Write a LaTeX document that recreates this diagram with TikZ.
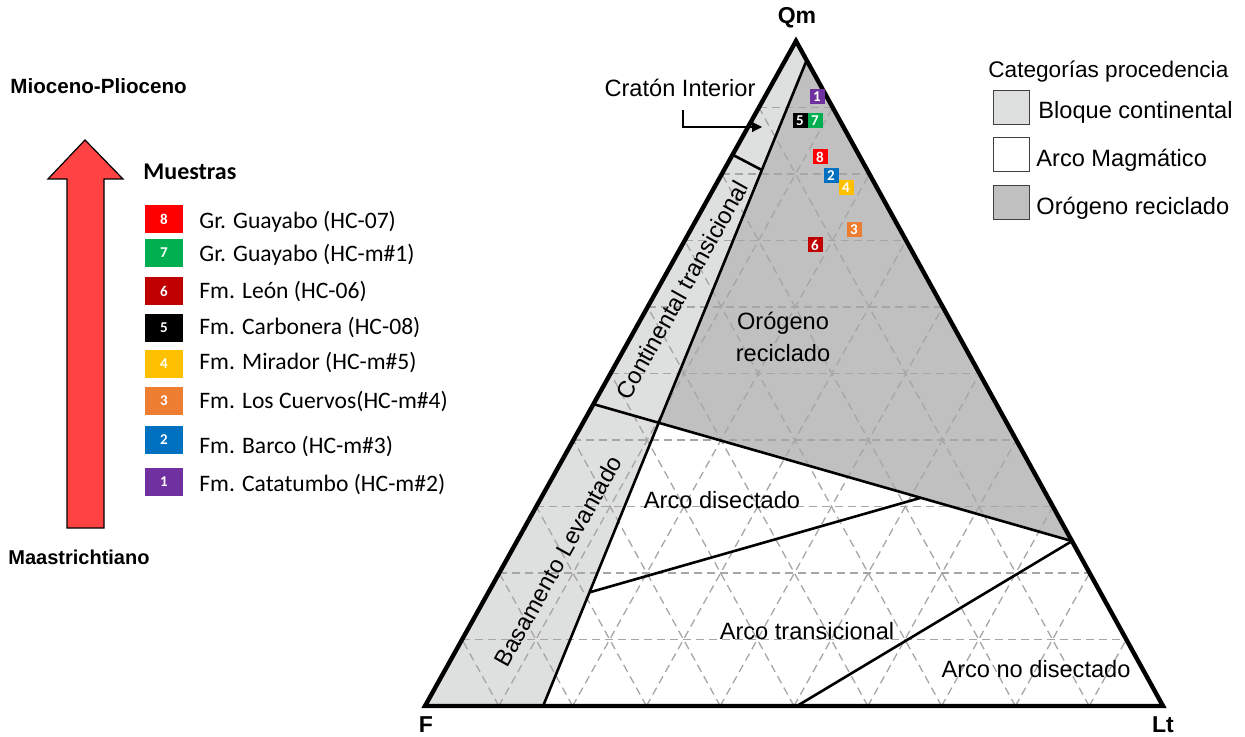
\documentclass[tikz,border=0pt]{standalone}
\usepackage{fontspec}
\setmainfont{Liberation Sans}
\newfontfamily\calibri{Carlito}
\usepackage{xcolor}
\usepackage{tikz}
\usetikzlibrary{calc,arrows.meta}
\definecolor{bloque}{HTML}{DEDFDF}
\definecolor{orogeno}{HTML}{C0C0C0}
\definecolor{gristrazo}{HTML}{A6A6A6}
\definecolor{flecharoja}{HTML}{FF4343}
\definecolor{m8}{HTML}{FF0000}
\definecolor{m7}{HTML}{00B050}
\definecolor{m6}{HTML}{C00000}
\definecolor{m5}{HTML}{000000}
\definecolor{m4}{HTML}{FFC000}
\definecolor{m3}{HTML}{ED7D31}
\definecolor{m2}{HTML}{0070C0}
\definecolor{m1}{HTML}{7030A0}
\tikzset{rejilla/.style={draw=gristrazo,dash pattern=on 4pt off 2.5pt,line width=0.65pt},
    borde/.style={line width=2.2pt,line join=miter},
    limite/.style={line width=1.3pt},
    muestra/.style={fill=#1,text=white,font=\calibri\bfseries\fontsize{7.5}{8}\selectfont,
        inner sep=0pt,minimum size=7.5pt},
    clave/.style={fill=#1,text=white,font=\calibri\bfseries\fontsize{7.5}{8}\selectfont,
        inner sep=0pt,minimum width=19pt,minimum height=14pt},
    nombre/.style={anchor=west,font=\calibri\fontsize{11.8}{13}\selectfont,inner sep=0pt},
    campo/.style={font=\fontsize{11.8}{16}\selectfont,align=center,inner sep=0pt},
    categoria/.style={draw=black!75,line width=0.5pt,minimum width=18pt,minimum height=17pt,inner sep=0pt},
    vertice/.style={font=\bfseries\fontsize{11.5}{13}\selectfont,inner sep=0pt},
    titulo/.style={font=\bfseries\fontsize{10}{12}\selectfont,anchor=west,inner sep=0pt}}

\begin{document}
\begin{tikzpicture}[x=0.5pt,y=-0.5pt]
    \useasboundingbox (0,0) rectangle (1245,737);
    \coordinate (F) at (425,706);
    \coordinate (Lt) at (1163,706);
    \coordinate (Qm) at (796,41);
    \coordinate (B0) at ($(F)!0.16!(Lt)$);
    \coordinate (B1) at ($(Lt)!0.971!(Qm)$);
    \coordinate (C0) at ($(F)!0.829!(Qm)$);
    \coordinate (C1) at ($(B0)!0.83!(B1)$);
    \coordinate (T0) at ($(F)!0.454!(Qm)$);
    \coordinate (R) at ($(Lt)!0.248!(Qm)$);
    \coordinate (T1) at (intersection of T0--R and B0--B1);
    \coordinate (D0) at ($(B0)!0.176!(B1)$);
    \coordinate (D1) at ($(T0)!0.684!(R)$);
    \coordinate (N0) at ($(F)!0.504!(Lt)$);

    \fill[bloque] (F) -- (B0) -- (B1) -- (Qm) -- cycle;
    \fill[orogeno] (T1) -- (B1) -- (R) -- cycle;
    \foreach \i in {1,...,9}{
        \draw[rejilla] ($(F)!\i/10!(Qm)$) -- ($(Lt)!\i/10!(Qm)$);
        \draw[rejilla] ($(F)!\i/10!(Lt)$) -- ($(F)!\i/10!(Qm)$);
        \draw[rejilla] ($(Lt)!\i/10!(F)$) -- ($(Lt)!\i/10!(Qm)$);
    }
    \draw[limite] (B0) -- (B1);
    \draw[limite] (C0) -- (C1);
    \draw[limite] (T0) -- (R);
    \draw[limite] (D0) -- (D1);
    \draw[limite] (R) -- (N0);
    \draw[borde] (F) -- (Lt) -- (Qm) -- cycle;

    \node[vertice] (qm) at (797,18) {Qm};
    \node[vertice] (f) at (426,725) {F};
    \node[vertice] (lt) at (1163,725) {Lt};

    \node[campo,rotate=60.8] (contin) at (682,290) {Continental transicional};
    \node[campo,rotate=60.8] (basam) at (558,561) {Basamento Levantado};
    \node[campo] (orog) at (783,337) {Orógeno\\reciclado};
    \node[campo] (disec) at (722,500) {Arco disectado};
    \node[campo] (trans) at (807,631) {Arco transicional};
    \node[campo] (nodisec) at (1036,669) {Arco no disectado};
    \node[campo] (craton) at (680,88) {Cratón Interior};
    \coordinate (cratonpie) at (683,110);
    \coordinate (cratonpunta) at (762,127);
    \draw[line width=0.6pt,-{Triangle[length=5pt,width=5pt]}] (cratonpie) |- (cratonpunta);

    \foreach \n/\x/\y in {1/817/97,5/800/121,7/815/121,8/820/157,2/831/176,4/846/188,3/854/230,6/815/245}
        \node[muestra=m\n] (p\n) at (\x,\y) {\n};

    \node[campo,anchor=west,font=\fontsize{11.3}{13}\selectfont] (cattit) at (988,72) {Categorías procedencia};
    \node[categoria,fill=bloque] (cat1) at (1011,108) {};
    \node[categoria,fill=white] (cat2) at (1011,155) {};
    \node[categoria,fill=orogeno] (cat3) at (1011,203) {};
    \node[campo,anchor=west] (cat1t) at (1038,112) {Bloque continental};
    \node[campo,anchor=west] (cat2t) at (1036,160) {Arco Magmático};
    \node[campo,anchor=west] (cat3t) at (1036,208) {Orógeno reciclado};

    \node[titulo,font=\bfseries\fontsize{10.3}{12}\selectfont] (mio) at (10,86) {Mioceno-Plioceno};
    \draw[fill=flecharoja,line width=0.6pt] (67,528) -- (67,179) -- (48,179) -- (85,140)
        -- (123,179) -- (104,179) -- (104,528) -- cycle;
    \node[titulo,font=\calibri\bfseries\fontsize{12}{13}\selectfont] (muestras) at (143,172) {Muestras};
    \node[titulo] (maas) at (8,557) {Maastrichtiano};

    \foreach \n/\y/\ty/\txt in {8/219/222/Gr. Guayabo (HC-07),7/253/255/Gr. Guayabo (HC-m\#1),
        6/291/292/Fm. León (HC-06),5/328/328/Fm. Carbonera (HC-08),4/364/363/Fm. Mirador (HC-m\#5),
        3/401/402/Fm. Los Cuervos(HC-m\#4),2/440/447/Fm. Barco (HC-m\#3),1/482/485/Fm. Catatumbo (HC-m\#2)}{
        \node[clave=m\n] (k\n) at (164,\y) {\n};
        \node[nombre] (t\n) at (199,\ty) {\txt};
    }
\end{tikzpicture}
\end{document}
